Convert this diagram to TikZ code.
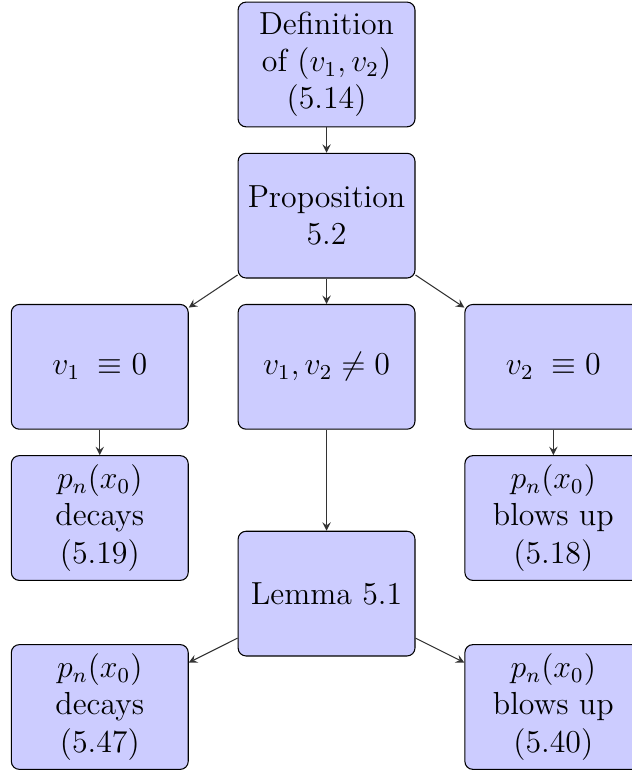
\documentclass[tikz,border=0pt]{standalone}
\usetikzlibrary{arrows}
\begin{document}
\begin{tikzpicture}[
  box/.style={draw=black, fill=blue!20, rounded corners=3pt, minimum width=2.34cm, minimum height=1.65cm, align=center, font=\large, inner sep=2pt},
  arr/.style={->, >=stealth, draw=black!80, line width=0.4pt}
]
\useasboundingbox (-4.32,-9.36) rectangle (4.04,0.853);
\node[box] (def) at (0,0) {Definition\\ of $(v_1,v_2)$\\ (5.14)};
\node[box] (prop) at (0,-2) {Proposition\\ 5.2};
\node[box] (a) at (-3,-4) {$v_1\;\equiv 0$};
\node[box] (b) at (0,-4) {$v_1,v_2\neq 0$};
\node[box] (c) at (3,-4) {$v_2\;\equiv 0$};
\node[box] (d) at (-3,-6) {$p_n(x_0)$\\ decays\\ (5.19)};
\node[box] (e) at (3,-6) {$p_n(x_0)$\\ blows up\\ (5.18)};
\node[box] (lem) at (0,-7) {Lemma 5.1};
\node[box] (f) at (-3,-8.5) {$p_n(x_0)$\\ decays\\ (5.47)};
\node[box] (g) at (3,-8.5) {$p_n(x_0)$\\ blows up\\ (5.40)};
\draw[arr] (def) -- (prop);
\draw[arr] (prop) -- (a);
\draw[arr] (prop) -- (b);
\draw[arr] (prop) -- (c);
\draw[arr] (a) -- (d);
\draw[arr] (c) -- (e);
\draw[arr] (b) -- (lem);
\draw[arr] (lem) -- (f);
\draw[arr] (lem) -- (g);
\end{tikzpicture}
\end{document}
